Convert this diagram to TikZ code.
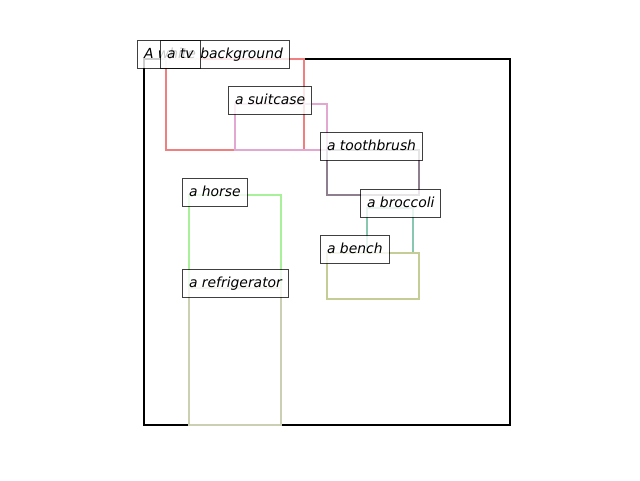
\documentclass[tikz,border=0pt]{standalone}
\usepackage{fontspec}
\setmainfont{DejaVu Sans}
\begin{document}
\begin{tikzpicture}[x=1pt,y=-1pt,
  bbox/.style={line width=2pt},
  lbl/.style={anchor=north west, draw=black, draw opacity=0.75, fill=white, fill opacity=0.8, text opacity=1,
    line width=1pt, inner xsep=6.5pt, inner ysep=6.6pt, text height=11pt, text depth=3.5pt,
    font=\fontsize{13.9}{16}\selectfont\itshape}]
\definecolor{ctv}{HTML}{F08080}
\definecolor{csuit}{HTML}{E2A8D2}
\definecolor{ctooth}{HTML}{8E7E8E}
\definecolor{cbroc}{HTML}{88C8B0}
\definecolor{cbench}{HTML}{C6CC96}
\definecolor{chorse}{HTML}{A8F09A}
\definecolor{cfridge}{HTML}{CDCFB2}
\useasboundingbox (0,0) rectangle (640,480);
% frame / white background
\draw[bbox, black] (144,59) rectangle (510,425);
% objects
\draw[bbox, ctv] (166,59) rectangle (304,150);
\draw[bbox, csuit] (235,104) rectangle (327,150);
\draw[bbox, ctooth] (327,150) rectangle (419,195);
\draw[bbox, cbroc] (367,208) rectangle (413,253);
\draw[bbox, cbench] (327,253) rectangle (419,299);
\draw[bbox, chorse] (189,195) rectangle (281,425);
\draw[bbox, cfridge] (189,288) rectangle (281,425);
% labels
\node[lbl] (lbg) at (137,40) {A white background};
\node[lbl] (ltv) at (160,40) {a tv};
\node[lbl] (lsuit) at (228,86) {a suitcase};
\node[lbl] (ltooth) at (320,132) {a toothbrush};
\node[lbl] (lhorse) at (182,178) {a horse};
\node[lbl] (lbroc) at (360,189) {a broccoli};
\node[lbl] (lbench) at (320,235) {a bench};
\node[lbl] (lfridge) at (182,269) {a refrigerator};
\end{tikzpicture}
\end{document}
